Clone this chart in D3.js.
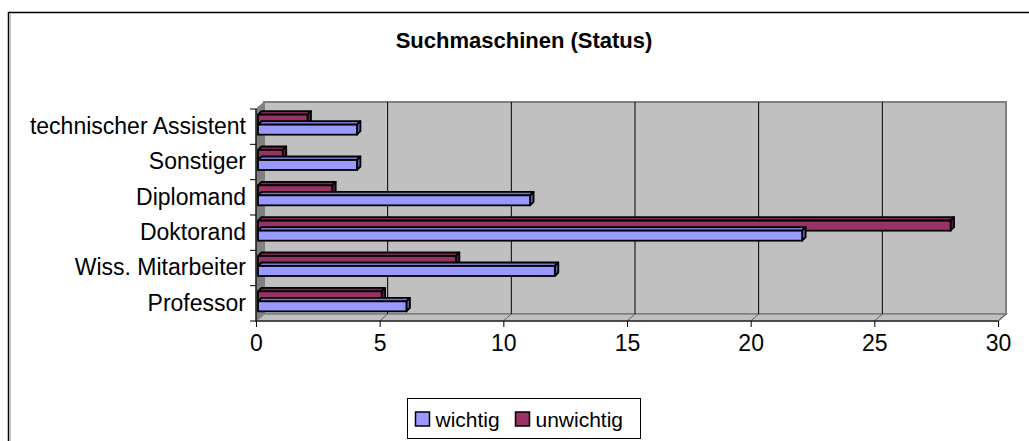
<!DOCTYPE html>
<html>
<head>
<meta charset="utf-8">
<script src="https://cdn.jsdelivr.net/npm/d3@7"></script>
<style>
  body { margin: 0; background: #fff; }
  text { font-family: Arial, "Liberation Sans", sans-serif; }
</style>
</head>
<body>
<script>
/*---------------------------------------------------------------------------
Data
---------------------------------------------------------------------------*/
var categories = ["Professor", "Wiss. Mitarbeiter", "Doktorand", "Diplomand", "Sonstiger", "technischer Assistent"];
var series = ["unwichtig", "wichtig"];
var wichtig = [6, 12, 22, 11, 4, 4];
var unwichtig = [5, 8, 28, 3, 1, 2];
var xTicks = [0, 5, 10, 15, 20, 25, 30];
var legendLabels = ["wichtig", "unwichtig"];

var width = 1029,
    height = 441;

// front plane of the 3d plot and the depth offset of the back wall
var x0 = 256, x1 = 998, yTop = 109, yBot = 321;
var dx = 8, dy = -7;
var barShift = 2, barDepth = 3.5;

var colors = {
  wichtig:   { front: "#9999FF", top: "#7777CC", side: "#5C5CA8" },
  unwichtig: { front: "#993366", top: "#7A2952", side: "#5C1F3D" }
};

var x = d3.scaleLinear()
    .domain([0, 30])
    .range([x0, x1]);

var y = d3.scaleBand()
    .domain(categories)
    .range([yBot, yTop]);

// red bar on top, blue below, both nudged up by the bar shift
var ySub = d3.scaleBand()
    .domain(series)
    .range([-10 - barShift, 10 - barShift]);

var svg = d3.select("body").append("svg")
    .attr("width", width)
    .attr("height", height);

/*---------------------------------------------------------------------------
Outer chart frame
---------------------------------------------------------------------------*/
svg.append("rect")
    .attr("x", 8.5).attr("y", 12.5)
    .attr("width", width + 20).attr("height", height + 20)
    .attr("fill", "#fff")
    .attr("stroke", "#000")
    .attr("stroke-width", 1.5);

svg.append("line")
    .attr("x1", 10.5).attr("x2", 10.5)
    .attr("y1", 14).attr("y2", height)
    .attr("stroke", "#c0c0c0");

svg.append("text")
    .attr("x", 524)
    .attr("y", 48)
    .attr("text-anchor", "middle")
    .style("font-size", "22px")
    .style("font-weight", "bold")
    .text("Suchmaschinen (Status)");

/*---------------------------------------------------------------------------
Walls: back wall, left side wall and floor
---------------------------------------------------------------------------*/
var line = d3.line();

svg.append("path")
    .attr("d", line([[x0 + dx, yTop + dy], [x1 + dx, yTop + dy], [x1 + dx, yBot + dy], [x0 + dx, yBot + dy]]) + "Z")
    .attr("fill", "#C0C0C0")
    .attr("stroke", "#808080")
    .attr("stroke-width", 2);

svg.append("path")
    .attr("d", line([[x0, yTop], [x0 + dx, yTop + dy], [x0 + dx, yBot + dy], [x0, yBot]]) + "Z")
    .attr("fill", "#808080")
    .attr("stroke", "#808080");

svg.append("path")
    .attr("d", line([[x0, yBot], [x0 + dx, yBot + dy], [x1 + dx, yBot + dy], [x1, yBot]]) + "Z")
    .attr("fill", "#C0C0C0")
    .attr("stroke", "#808080")
    .attr("stroke-width", 1.5);

// gridlines on the back wall and their diagonals across the floor
svg.selectAll(".grid")
    .data(xTicks.slice(1, -1))
  .enter().append("line")
    .attr("class", "grid")
    .attr("x1", function(d) { return x(d) + dx; })
    .attr("x2", function(d) { return x(d) + dx; })
    .attr("y1", yTop + dy)
    .attr("y2", yBot + dy)
    .attr("stroke", "#000");

svg.selectAll(".floorline")
    .data(xTicks.slice(1))
  .enter().append("line")
    .attr("class", "floorline")
    .attr("x1", function(d) { return x(d); })
    .attr("x2", function(d) { return x(d) + dx; })
    .attr("y1", yBot)
    .attr("y2", yBot + dy)
    .attr("stroke", "#606060");

/*---------------------------------------------------------------------------
3d bars: front face, top face and right face
---------------------------------------------------------------------------*/
var rows = [];
categories.forEach(function(c, i) {
  rows.push({ cat: c, key: "wichtig", value: wichtig[i] });
  rows.push({ cat: c, key: "unwichtig", value: unwichtig[i] });
});
// top categories first, blue before red so red covers blue's top face
rows.reverse();
rows.sort(function(a, b) { return categories.indexOf(b.cat) - categories.indexOf(a.cat); });

var bars = svg.selectAll(".bar")
    .data(rows)
  .enter().append("g")
    .attr("class", "bar");

function geom(d) {
  var yc = y(d.cat) + y.bandwidth() / 2;
  return {
    l: x(0) + barShift,
    r: x(d.value) + barShift,
    t: yc + ySub(d.key),
    b: yc + ySub(d.key) + ySub.bandwidth()
  };
}

bars.append("path")
    .attr("d", function(d) {
      var g = geom(d);
      return line([[g.l, g.t], [g.l + barDepth, g.t - barDepth], [g.r + barDepth, g.t - barDepth], [g.r, g.t]]) + "Z";
    })
    .attr("fill", function(d) { return colors[d.key].top; })
    .attr("stroke", "#000")
    .attr("stroke-width", 1.8)
    .attr("stroke-linejoin", "round");

bars.append("path")
    .attr("d", function(d) {
      var g = geom(d);
      return line([[g.r, g.t], [g.r + barDepth, g.t - barDepth], [g.r + barDepth, g.b - barDepth], [g.r, g.b]]) + "Z";
    })
    .attr("fill", function(d) { return colors[d.key].side; })
    .attr("stroke", "#000")
    .attr("stroke-width", 1.8)
    .attr("stroke-linejoin", "round");

bars.append("rect")
    .attr("x", function(d) { return geom(d).l; })
    .attr("y", function(d) { return geom(d).t; })
    .attr("width", function(d) { var g = geom(d); return g.r - g.l; })
    .attr("height", ySub.bandwidth())
    .attr("fill", function(d) { return colors[d.key].front; })
    .attr("stroke", "#000")
    .attr("stroke-width", 1.8);

/*---------------------------------------------------------------------------
Axes
---------------------------------------------------------------------------*/
var xAxis = svg.append("g")
    .attr("transform", "translate(0," + yBot + ")")
    .call(d3.axisBottom(x).tickValues(xTicks).tickSize(6).tickPadding(8));

var yAxis = svg.append("g")
    .attr("transform", "translate(" + x0 + ",0)")
    .call(d3.axisLeft(y).tickSize(0).tickPadding(10));

// category ticks sit on band edges, not centres
svg.selectAll(".ytick")
    .data(d3.range(categories.length + 1))
  .enter().append("line")
    .attr("class", "ytick")
    .attr("x1", x0 - 6).attr("x2", x0)
    .attr("y1", function(i) { return yBot - i * y.step(); })
    .attr("y2", function(i) { return yBot - i * y.step(); })
    .attr("stroke", "#000");

[xAxis, yAxis].forEach(function(ax) {
  ax.selectAll("path").attr("stroke", "#000").attr("stroke-width", 1.2);
  ax.selectAll("line").attr("stroke", "#000");
  ax.selectAll("text")
      .attr("fill", "#000")
      .style("font-size", "23px")
      .style("font-family", "Arial, 'Liberation Sans', sans-serif");
});
yAxis.select(".domain").attr("d", "M0," + yTop + "V" + yBot);
xAxis.select(".domain").attr("d", "M" + x0 + ",0H" + x1);

/*---------------------------------------------------------------------------
Legend
---------------------------------------------------------------------------*/
var legend = svg.append("g")
    .attr("transform", "translate(407.5,398.5)");

legend.append("rect")
    .attr("width", 233)
    .attr("height", 40)
    .attr("fill", "#fff")
    .attr("stroke", "#000");

var lx = [8, 108];
var item = legend.selectAll(".item")
    .data(legendLabels)
  .enter().append("g")
    .attr("class", "item")
    .attr("transform", function(d, i) { return "translate(" + lx[i] + ",0)"; });

item.append("rect")
    .attr("y", 13.5)
    .attr("width", 14)
    .attr("height", 14)
    .attr("fill", function(d) { return colors[d].front; })
    .attr("stroke", "#000")
    .attr("stroke-width", 1.5);

item.append("text")
    .attr("x", 20)
    .attr("y", 28)
    .style("font-size", "21px")
    .text(function(d) { return d; });
</script>
</body>
</html>
